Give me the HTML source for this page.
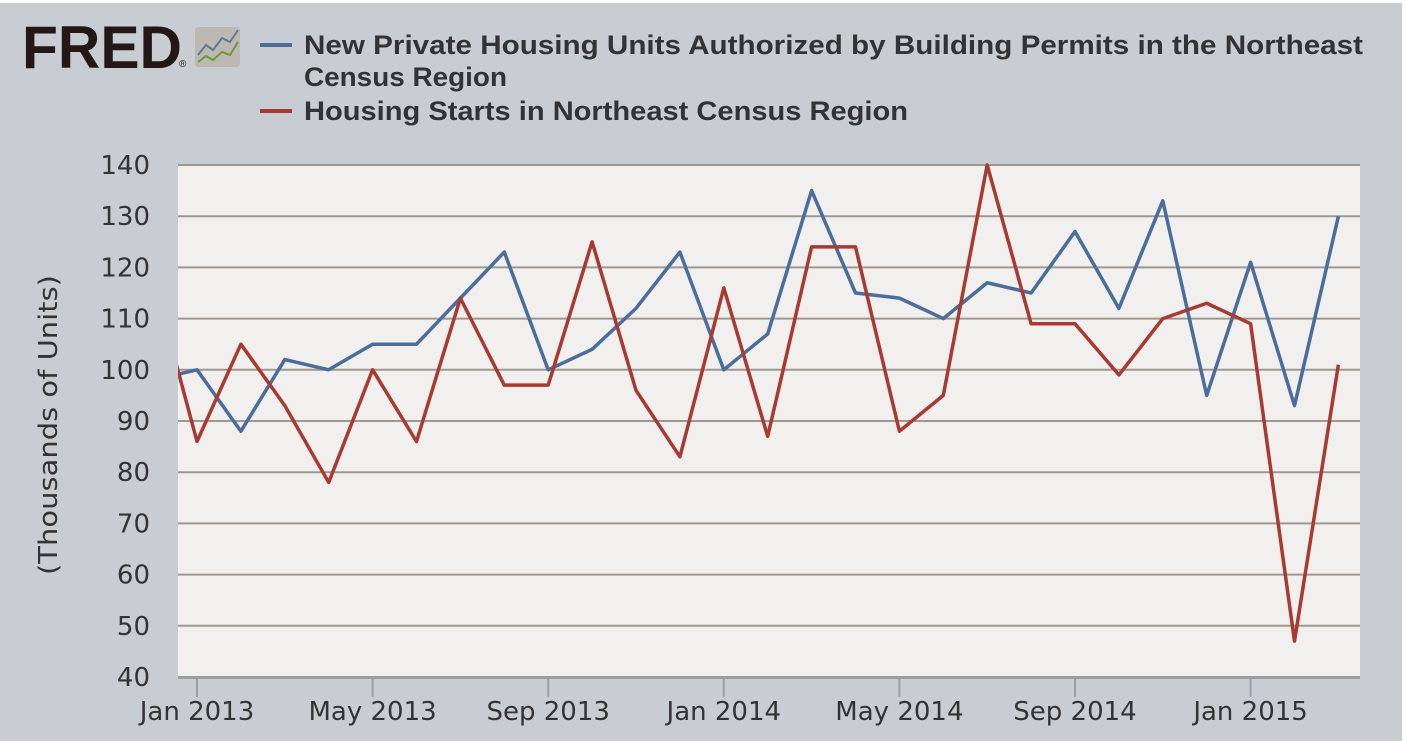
<!DOCTYPE html>
<html><head><meta charset="utf-8"><style>
body{margin:0;width:1406px;height:741px;overflow:hidden;background:#fff}
#wrap{position:absolute;left:0;top:3px;width:1402px;height:738px;background:#c8cdd4}
</style></head><body>
<div id="wrap"></div>
<svg id="chart" width="1406" height="741" style="position:absolute;left:0;top:0">
<g>
<text x="22" y="68" font-family="Liberation Sans, sans-serif" font-weight="bold" font-size="60" fill="#231815" textLength="160" lengthAdjust="spacingAndGlyphs">FRED</text>
<text x="179" y="67" font-family="Liberation Sans, sans-serif" font-size="10" fill="#231815">®</text>
<rect x="195" y="27" width="45" height="40" rx="3" fill="#bdb9b2"/>
<polyline points="198,55 206,45 213,50 222,38 230,42 238,30" fill="none" stroke="#5a7b9b" stroke-width="2"/>
<polyline points="198,62 206,56 213,60 222,52 230,55 238,42" fill="none" stroke="#6a9a3a" stroke-width="2"/>
</g>
<g font-family="Liberation Sans, sans-serif" font-weight="bold" font-size="27" fill="#333">
<line x1="260" y1="45" x2="292" y2="45" stroke="#4a6d9c" stroke-width="4"/>
<text x="304" y="54" textLength="1059" lengthAdjust="spacingAndGlyphs">New Private Housing Units Authorized by Building Permits in the Northeast</text>
<text x="304" y="86" textLength="203" lengthAdjust="spacingAndGlyphs">Census Region</text>
<line x1="260" y1="111" x2="292" y2="111" stroke="#a83a32" stroke-width="4"/>
<text x="304" y="120" textLength="604" lengthAdjust="spacingAndGlyphs">Housing Starts in Northeast Census Region</text>
</g>
<rect x="178" y="165" width="1182" height="512" fill="#f1f0ee"/>
<g id="grid"></g><g id="ticks"></g><g id="series"></g>
<text transform="translate(57,425) rotate(-90)" text-anchor="middle" font-family="DejaVu Sans, sans-serif" font-size="26" fill="#333" textLength="300" lengthAdjust="spacingAndGlyphs">(Thousands of Units)</text>
</svg>
<script>
const yTicks=[40,50,60,70,80,90,100,110,120,130,140];
const xLabels=["Jan 2013","May 2013","Sep 2013","Jan 2014","May 2014","Sep 2014","Jan 2015"];
const xLabelIdx=[1,5,9,13,17,21,25];
const permits=[98,100,88,102,100,105,105,114,123,100,104,112,123,100,107,135,115,114,110,117,115,127,112,133,95,121,93,130];
const starts=[118,86,105,93,78,100,86,114,97,97,125,96,83,116,87,124,124,88,95,140,109,109,99,110,113,109,47,101];
const NS='http://www.w3.org/2000/svg';
const L=178,R=1360,T=165,B=677;
const y=v=>B-(v-40)/100*(B-T);
const x=i=>197+(i-1)*43.9;
function mk(t,a,p){const e=document.createElementNS(NS,t);for(const k in a)e.setAttribute(k,a[k]);document.getElementById(p).appendChild(e);return e;}
yTicks.forEach(v=>{
 const g=mk('line',{x1:L,x2:R,y1:y(v),y2:y(v),stroke:'#a09890','stroke-width':2},'grid');
 
 
 const t=mk('text',{x:150,y:y(v)+9,'text-anchor':'end','font-family':'DejaVu Sans, sans-serif','font-size':26,fill:'#333'},'ticks');
 t.textContent=v;
 
 
});
mk('line',{x1:L,x2:R,y1:B+1,y2:B+1,stroke:'#9aa0a8','stroke-width':2},'ticks');
xLabels.forEach((s,j)=>{
 const xx=x(xLabelIdx[j]);
 const tk=mk('line',{x1:xx,x2:xx,y1:B,y2:B+20,stroke:'#9aa0a8','stroke-width':2},'ticks');
 
 
 const t=mk('text',{x:xx,y:720,'text-anchor':'middle','font-family':'DejaVu Sans, sans-serif','font-size':26,fill:'#333'},'ticks');
 t.textContent=s;
 
 
});
const cp=mk('clipPath',{id:'clip'},'series');
const cr=document.createElementNS(NS,'rect');
cr.setAttribute('x',L);cr.setAttribute('y',T-5);cr.setAttribute('width',R-L);cr.setAttribute('height',B-T+10);
cp.appendChild(cr);
function line(d,c,n){
 const p=mk('polyline',{points:d.map((v,i)=>x(i)+','+y(v)).join(' '),fill:'none',stroke:c,'stroke-width':3.5,'stroke-linejoin':'round','clip-path':'url(#clip)'},'series');
 
 
}
line(permits,'#4a6d9c','permits-line');
line(starts,'#a83a32','starts-line');
</script>
</body></html>
